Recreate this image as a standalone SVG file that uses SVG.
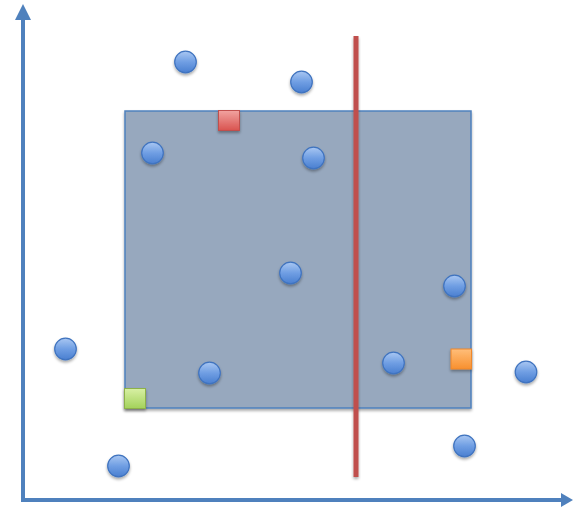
<svg xmlns="http://www.w3.org/2000/svg" width="573" height="512" viewBox="0 0 573 512">
<defs>
<linearGradient id="gb" x1="0" y1="0" x2="0" y2="1"><stop offset="0" stop-color="#A9C7F2"/><stop offset="0.5" stop-color="#6F9EE3"/><stop offset="1" stop-color="#4A7FD0"/></linearGradient>
<linearGradient id="gr" x1="0" y1="0" x2="0" y2="1"><stop offset="0" stop-color="#F1A3A0"/><stop offset="1" stop-color="#D9534F"/></linearGradient>
<linearGradient id="gg" x1="0" y1="0" x2="0" y2="1"><stop offset="0" stop-color="#D8F0A4"/><stop offset="1" stop-color="#A3D25A"/></linearGradient>
<linearGradient id="go" x1="0" y1="0" x2="0" y2="1"><stop offset="0" stop-color="#FFBE7A"/><stop offset="1" stop-color="#F8902E"/></linearGradient>
<filter id="sh" x="-50%" y="-50%" width="200%" height="200%"><feGaussianBlur in="SourceAlpha" stdDeviation="1.5"/><feOffset dx="0" dy="2"/><feComponentTransfer><feFuncA type="linear" slope="0.35"/></feComponentTransfer><feMerge><feMergeNode/><feMergeNode in="SourceGraphic"/></feMerge></filter>
</defs>
<style>
.axis{stroke:#4F81BD;stroke-width:4;fill:none}
.ah{fill:#4F81BD}
.pt{fill:url(#gb);stroke:#3F73BF;stroke-width:1.2;filter:url(#sh)}
.sq{stroke-width:1;filter:url(#sh)}
</style>
<g id="region">
<rect x="125" y="111" width="346" height="297" fill="#97A8BE" stroke="#4F81BD" stroke-width="1.5" filter="url(#sh)"/>
</g>
<g id="connectors">
<line class="axis" x1="23" y1="502" x2="23" y2="18"/>
<polygon class="ah" points="15,20 23,4 31,20"/>
<line class="axis" x1="21" y1="500" x2="561" y2="500"/>
<polygon class="ah" points="561,493 573,500 561,507"/>
<rect x="353.5" y="36" width="5" height="441" fill="#C0504D" filter="url(#sh)"/>
</g>
<g id="points">
<circle class="pt" cx="185.5" cy="62" r="10.8"/>
<circle class="pt" cx="301.5" cy="82" r="10.8"/>
<circle class="pt" cx="152.5" cy="153" r="10.8"/>
<circle class="pt" cx="313.5" cy="158" r="10.8"/>
<circle class="pt" cx="290.5" cy="273" r="10.8"/>
<circle class="pt" cx="454.5" cy="286" r="10.8"/>
<circle class="pt" cx="65.5" cy="349" r="10.8"/>
<circle class="pt" cx="209.5" cy="373" r="10.8"/>
<circle class="pt" cx="393.5" cy="363" r="10.8"/>
<circle class="pt" cx="526" cy="372" r="10.8"/>
<circle class="pt" cx="464.5" cy="446" r="10.8"/>
<circle class="pt" cx="118.5" cy="466" r="10.8"/>
</g>
<g id="red-square"><rect class="sq" x="218.5" y="110.5" width="21" height="20" fill="url(#gr)" stroke="#C0504D"/></g>
<g id="green-square"><rect class="sq" x="124.5" y="388.5" width="21" height="20" fill="url(#gg)" stroke="#8DB14A"/></g>
<g id="orange-square"><rect class="sq" x="451" y="349" width="20.5" height="20" fill="url(#go)" stroke="#F0882A"/></g>
</svg>
